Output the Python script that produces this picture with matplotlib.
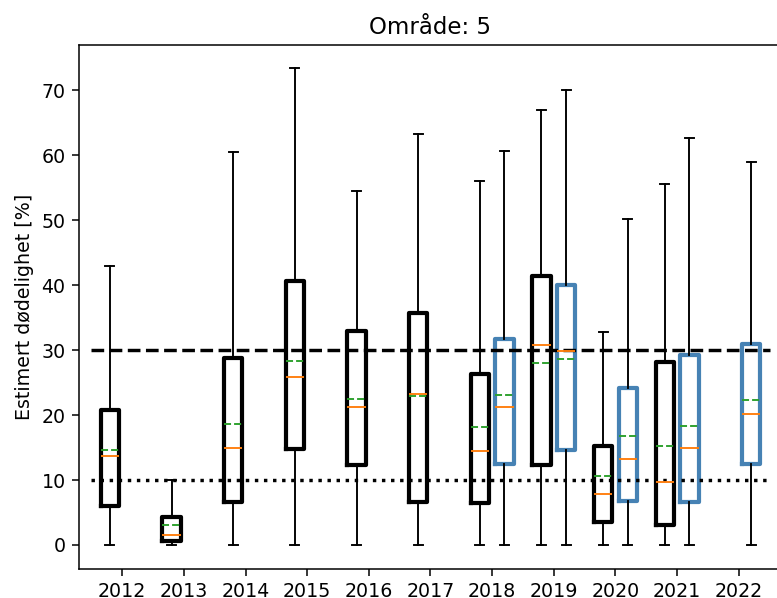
import numpy as np
import matplotlib.pyplot as plt

# ==============================
# Data
# ==============================
years = [2012, 2013, 2014, 2015, 2016, 2017, 2018, 2019, 2020, 2021, 2022]

# black boxes (2012-2021)
black_years = [2012, 2013, 2014, 2015, 2016, 2017, 2018, 2019, 2020, 2021]
black_low = [0, 0, 0, 0, 0, 0, 0, 0, 0, 0]
black_q1 = [6.05, 0.6, 6.6, 14.8, 12.3, 6.6, 6.5, 12.3, 3.5, 3.0]
black_med = [13.75, 1.6, 15.0, 25.8, 21.2, 23.2, 14.4, 30.8, 7.8, 9.7]
black_mean = [14.6, 3.0, 18.7, 28.4, 22.5, 22.9, 18.1, 28.1, 10.6, 15.3]
black_q3 = [20.8, 4.3, 28.8, 40.6, 32.9, 35.7, 26.4, 41.4, 15.3, 28.2]
black_high = [42.9, 10.0, 60.6, 73.4, 54.5, 63.3, 56.1, 67.0, 32.8, 55.6]

# blue boxes (2018-2022)
blue_years = [2018, 2019, 2020, 2021, 2022]
blue_low = [0, 0, 0, 0, 0]
blue_q1 = [12.5, 14.7, 6.8, 6.6, 12.4]
blue_med = [21.3, 29.9, 13.2, 15.0, 20.2]
blue_mean = [23.1, 28.6, 16.8, 18.3, 22.3]
blue_q3 = [31.7, 40.1, 24.2, 29.2, 30.9]
blue_high = [60.7, 70.1, 50.2, 62.7, 59.0]


def make_stats(low, q1, med, mean, q3, high):
    stats = []
    for i in range(len(med)):
        stats.append(dict(whislo=low[i], q1=q1[i], med=med[i], mean=mean[i],
                          q3=q3[i], whishi=high[i], fliers=[]))
    return stats


x_of = {y: i + 1 for i, y in enumerate(years)}

fig = plt.figure(figsize=(777 / 137, 598 / 137), dpi=137)
ax = fig.add_axes([0.1017, 0.0485, 0.9047, 0.8762])

common = dict(widths=0.3, showmeans=True, meanline=True, showfliers=False,
              manage_ticks=False,
              whiskerprops=dict(color="black", linewidth=1.0),
              capprops=dict(color="black", linewidth=1.0),
              medianprops=dict(color="C1", linewidth=1.0),
              meanprops=dict(color="C2", linestyle="--", linewidth=1.0))

ax.bxp(make_stats(black_low, black_q1, black_med, black_mean, black_q3, black_high),
       positions=[x_of[y] - 0.2 for y in black_years],
       boxprops=dict(color="black", linewidth=2.2), **common)

ax.bxp(make_stats(blue_low, blue_q1, blue_med, blue_mean, blue_q3, blue_high),
       positions=[x_of[y] + 0.2 for y in blue_years],
       boxprops=dict(color="#4682b4", linewidth=2.2), **common)

# reference lines
ax.plot([0.5, 11.5], [30, 30], color="black", linestyle="--", linewidth=1.8)
ax.plot([0.5, 11.5], [10, 10], color="black", linestyle=":", linewidth=1.8)

ax.set_xlim(0.3, 11.7)
ax.set_xticks(range(1, len(years) + 1))
ax.set_xticklabels([str(y) for y in years])
ax.set_yticks(range(0, 80, 10))
ax.set_ylim(-3.7, 77.0)
ax.set_ylabel("Estimert dødelighet [%]")
ax.set_title("Område: 5")

fig.savefig("out.png", dpi=137)
